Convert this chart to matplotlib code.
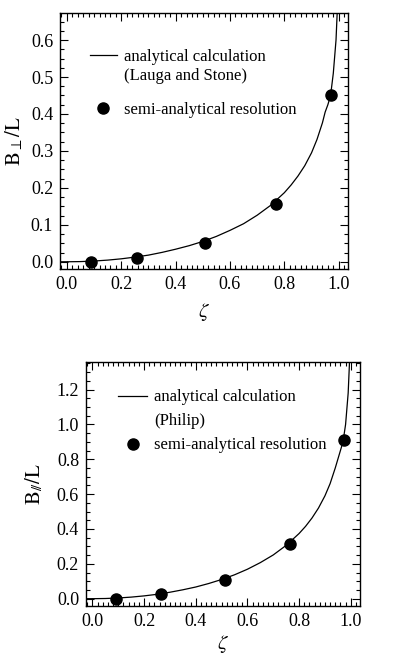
import matplotlib
matplotlib.use("Agg")
import matplotlib.pyplot as plt
from matplotlib.ticker import MultipleLocator, FormatStrFormatter
from matplotlib.lines import Line2D

plt.rcParams['font.family'] = ['Liberation Serif', 'DejaVu Serif']
plt.rcParams['mathtext.fontset'] = 'stix'

# --- values ---
# top panel: analytical curve (Lauga and Stone) and semi-analytical points
zeta_perp_curve = [-0.03, 0.0, 0.05, 0.1, 0.15, 0.2, 0.25, 0.3, 0.35, 0.4, 0.45, 0.5,
                   0.55, 0.6, 0.65, 0.7, 0.75, 0.8, 0.825, 0.85, 0.875, 0.9, 0.92,
                   0.94, 0.95, 0.96, 0.97, 0.98, 0.99, 0.997]
b_perp_curve = [0.0, 0.0, 0.0005, 0.002, 0.0045, 0.008, 0.0126, 0.018, 0.0254, 0.034,
                0.0436, 0.055, 0.0687, 0.085, 0.103, 0.126, 0.153, 0.187, 0.208,
                0.232, 0.26, 0.295, 0.331, 0.376, 0.405, 0.425, 0.45, 0.51, 0.6, 0.72]
zeta_perp_pts = [0.088, 0.259, 0.507, 0.771, 0.972]
b_perp_pts = [0.0, 0.011, 0.051, 0.157, 0.452]

# bottom panel: analytical curve (Philip) and semi-analytical points
zeta_par_curve = [-0.03, 0.0, 0.05, 0.1, 0.15, 0.2, 0.25, 0.3, 0.35, 0.4, 0.45, 0.5,
                  0.55, 0.6, 0.65, 0.7, 0.75, 0.8, 0.825, 0.85, 0.875, 0.9, 0.92,
                  0.94, 0.95, 0.96, 0.97, 0.98, 0.99, 0.997]
b_par_curve = [0.0, 0.0, 0.001, 0.004, 0.009, 0.016, 0.025, 0.037, 0.051, 0.067,
               0.087, 0.11, 0.137, 0.169, 0.207, 0.251, 0.306, 0.374, 0.415,
               0.463, 0.52, 0.59, 0.66, 0.75, 0.8, 0.85, 0.9, 1.0, 1.18, 1.42]
zeta_par_pts = [0.09, 0.265, 0.512, 0.764, 0.975]
b_par_pts = [0.0, 0.025, 0.107, 0.313, 0.91]

fig = plt.figure(figsize=(3.98, 6.54), dpi=100)
ax1 = fig.add_axes([0.151, 0.589, 0.724, 0.391])
ax2 = fig.add_axes([0.216, 0.0734, 0.688, 0.373])


def style(ax, ymin, ymax, ymaj, ymin_step):
    ax.set_xlim(-0.025, 1.035)
    ax.set_ylim(ymin, ymax)
    ax.xaxis.set_major_locator(MultipleLocator(0.2))
    ax.xaxis.set_minor_locator(MultipleLocator(0.02))
    ax.yaxis.set_major_locator(MultipleLocator(ymaj))
    ax.yaxis.set_minor_locator(MultipleLocator(ymin_step))
    ax.tick_params(which='both', direction='in', top=True, right=True,
                   labelsize=13, width=0.8, pad=5)
    ax.tick_params(which='major', length=6)
    ax.tick_params(which='minor', length=3)
    for s in ax.spines.values():
        s.set_linewidth(1.0)
    ax.xaxis.set_major_formatter(FormatStrFormatter('%.1f'))
    ax.yaxis.set_major_formatter(FormatStrFormatter('%.1f'))


blank = Line2D([], [], linestyle='none')
leg_kw = dict(loc='upper left', frameon=False, fontsize=12, borderpad=0,
              borderaxespad=0, handletextpad=0.42)

# top panel
line1, = ax1.plot(zeta_perp_curve, b_perp_curve, color='black', lw=0.9)
pts1, = ax1.plot(zeta_perp_pts, b_perp_pts, 'o', color='black', ms=8)
style(ax1, -0.019, 0.673, 0.1, 0.025)
ax1.set_xlabel(r'$\zeta$', fontsize=15, labelpad=6)
ax1.set_ylabel(r'$\mathrm{B}_{\perp}/\mathrm{L}$', fontsize=15, labelpad=4)
lg_a = ax1.legend([line1, blank], ['analytical calculation', '(Lauga and Stone)'],
                  bbox_to_anchor=(0.104, 0.861), handlelength=1.6,
                  labelspacing=0.22, **leg_kw)
ax1.add_artist(lg_a)
ax1.legend([pts1], ['semi-analytical resolution'],
           bbox_to_anchor=(0.104, 0.654), handlelength=1.6, **leg_kw)

# bottom panel
line2, = ax2.plot(zeta_par_curve, b_par_curve, color='black', lw=0.9)
pts2, = ax2.plot(zeta_par_pts, b_par_pts, 'o', color='black', ms=8)
style(ax2, -0.042, 1.358, 0.2, 0.05)
ax2.set_xlabel(r'$\zeta$', fontsize=15, labelpad=2)
ax2.set_ylabel(r'$\mathrm{B}_{/\!/}/\mathrm{L}$', fontsize=15, labelpad=8)
ax2.legend([line2, blank, pts2],
           ['analytical calculation', '(Philip)', 'semi-analytical resolution'],
           bbox_to_anchor=(0.117, 0.888), handlelength=1.74, labelspacing=0.48,
           **leg_kw)

fig.savefig('out.png', dpi=100)
